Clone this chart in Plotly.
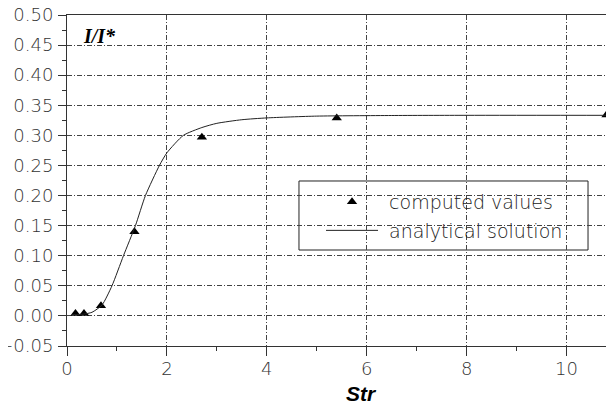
import plotly.graph_objects as go

# computed values (triangles)
str_computed = [0.17, 0.34, 0.68, 1.35, 2.7, 5.4, 10.8]
ratio_computed = [0.004, 0.004, 0.017, 0.140, 0.297, 0.329, 0.334]

# analytical solution (curve)
str_analytic = [0.1, 0.33, 0.5, 0.7, 0.9, 1.13, 1.37, 1.57, 1.85, 2.0, 2.33, 2.7,
                3.0, 3.5, 4.0, 5.0, 6.5, 8.0, 11.0]
ratio_analytic = [0.002, 0.003, 0.006, 0.018, 0.05, 0.10, 0.15, 0.20, 0.25, 0.271,
                  0.300, 0.313, 0.320, 0.326, 0.329, 0.332, 0.333, 0.3333, 0.3333]

x_range = [0, 10.95]
y_range = [-0.05, 0.5]

tick_font = dict(family="DejaVu Sans", size=18, color="#333333", weight=300)

fig = go.Figure()
fig.add_trace(go.Scatter(
    x=str_computed, y=ratio_computed, mode="markers",
    name="\u00a0computed values", legendgroup="a",
    marker=dict(symbol="triangle-up", size=9, color="black"),
    cliponaxis=False,
))
fig.add_trace(go.Scatter(
    x=str_analytic, y=ratio_analytic, mode="lines",
    name="\u00a0analytical solution", legendgroup="b",
    line=dict(color="#222222", width=1, shape="spline", smoothing=0.6),
))

grid_dash = "5px,2px,1px,2px"

# page body has an 8px margin, so the figure is sized/offset to compensate
fig.update_layout(
    width=606, height=401,
    margin=dict(l=59, r=0, t=7, b=63),
    paper_bgcolor="white", plot_bgcolor="white",
    showlegend=True,
    legend=dict(
        x=0.4644, y=0.493, xanchor="left", yanchor="top",
        bgcolor="rgba(0,0,0,0)", borderwidth=0,
        font=dict(family="DejaVu Sans", size=19, color="#222222", weight=300),
        itemwidth=52, traceorder="grouped", tracegroupgap=1,
    ),
    xaxis=dict(
        range=x_range, tickmode="linear", tick0=0, dtick=2, automargin=False,
        showgrid=True, gridcolor="#444444", gridwidth=1, griddash=grid_dash,
        zeroline=False, showline=True, linecolor="#333333", linewidth=1,
        mirror=True, ticks="outside", ticklen=9, tickcolor="#333333",
        tickfont=tick_font, ticklabelstandoff=-3, ticklabeloverflow="allow",
        minor=dict(dtick=1, ticks="outside", ticklen=4, tickcolor="#333333", showgrid=False),
    ),
    yaxis=dict(
        range=y_range, tickmode="linear", tick0=0, dtick=0.05, tickformat=".2f",
        automargin=False,
        showgrid=True, gridcolor="#444444", gridwidth=1, griddash=grid_dash,
        zeroline=False, showline=True, linecolor="#333333", linewidth=1,
        ticks="outside", ticklen=8, tickcolor="#333333",
        tickfont=tick_font, ticklabelstandoff=1, ticklabeloverflow="allow",
        minor=dict(dtick=0.025, ticks="outside", ticklen=4, tickcolor="#333333", showgrid=False),
    ),
    xaxis2=dict(
        range=x_range, overlaying="x", side="bottom", anchor="y", automargin=False,
        tickmode="linear", tick0=0, dtick=2, ticks="inside", ticklen=6,
        tickcolor="#333333", showticklabels=False, showgrid=False,
        zeroline=False, showline=False,
    ),
    shapes=[dict(
        type="rect", xref="paper", yref="paper",
        x0=0.4241, x1=0.9525, y0=0.290, y1=0.4985,
        line=dict(color="#222222", width=1), fillcolor="white", layer="below",
    )],
    annotations=[
        dict(
            text="<b><i>I/I*</i></b>", xref="paper", yref="paper",
            x=0.025, y=0.977, xanchor="left", yanchor="top", showarrow=False,
            font=dict(family="Liberation Serif", size=20, color="black"),
        ),
        dict(
            text="<b><i>Str</i></b>", xref="paper", yref="paper",
            x=0.5375, y=-0.142, xanchor="center", yanchor="middle", showarrow=False,
            font=dict(family="Liberation Sans", size=21, color="black"),
        ),
    ],
)

fig.write_html("out.html")
